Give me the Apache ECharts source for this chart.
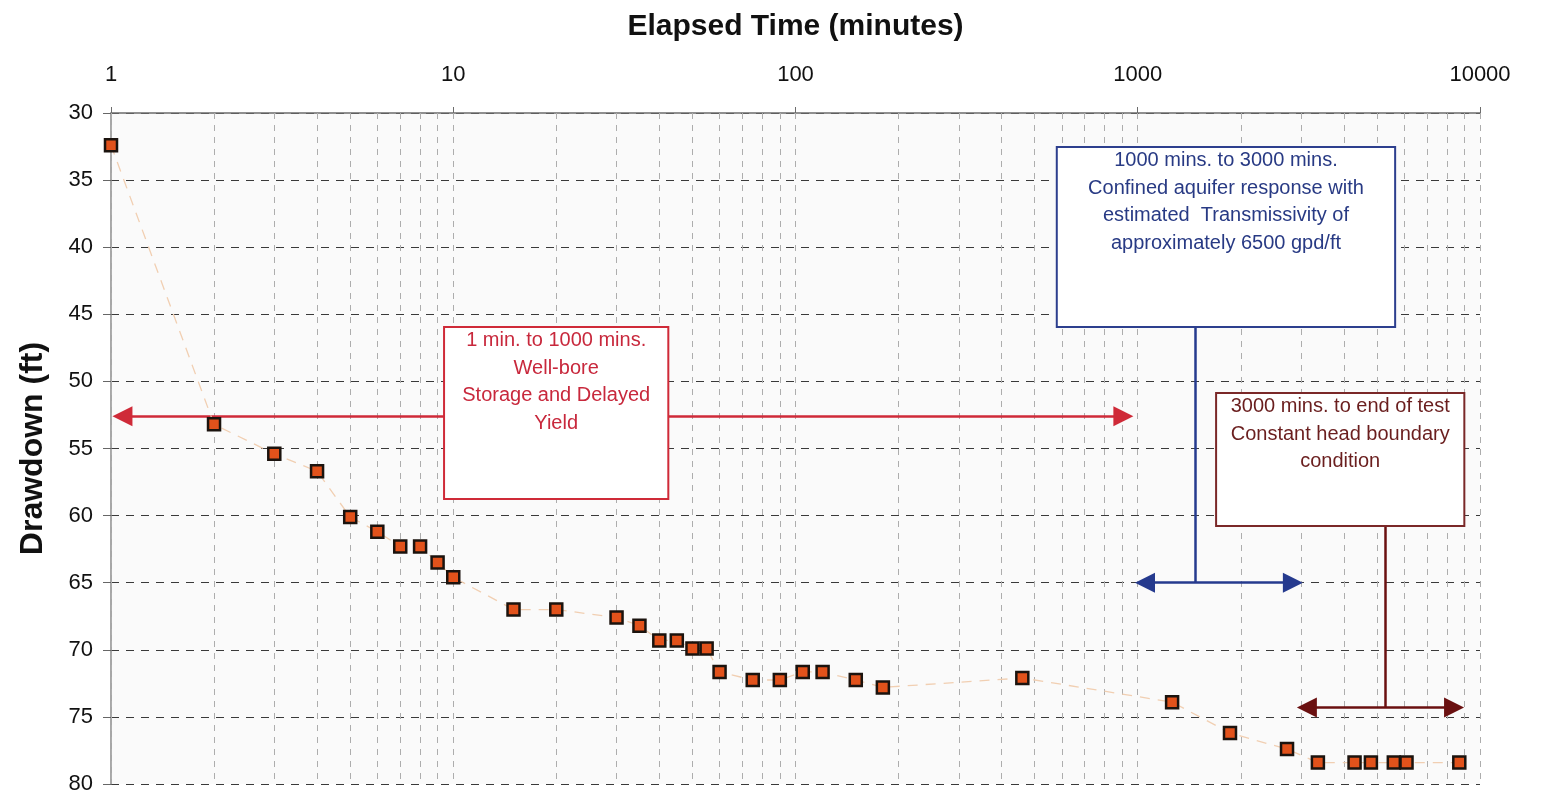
<!DOCTYPE html>
<html>
<head>
<meta charset="utf-8">
<script src="https://cdn.jsdelivr.net/npm/echarts@6/dist/echarts.min.js"></script>
<style>
html,body{margin:0;padding:0;background:#ffffff;}
#chart{width:1543px;height:795px;}
</style>
</head>
<body>
<div id="chart"></div>
<script>
// ---- data ----
const elapsedMinutes = [1, 2, 3, 4, 5, 6, 7, 8, 9, 10, 15, 20, 30, 35, 40, 45, 50, 55, 60, 75, 90, 105, 120, 150, 180, 460, 1260, 1860, 2730, 3360, 4300, 4800, 5600, 6100, 8700];
const drawdownFt     = [32.4, 53.2, 55.4, 56.7, 60.1, 61.2, 62.3, 62.3, 63.5, 64.6, 67.0, 67.0, 67.6, 68.2, 69.3, 69.3, 69.9, 69.9, 71.65, 72.25, 72.25, 71.65, 71.65, 72.25, 72.8, 72.1, 73.9, 76.2, 77.4, 78.4, 78.4, 78.4, 78.4, 78.4, 78.4];
const xTickLabels = ['1', '10', '100', '1000', '10000'];
const yTickLabels = [30, 35, 40, 45, 50, 55, 60, 65, 70, 75, 80];
const xTitle = 'Elapsed Time (minutes)';
const yTitle = 'Drawdown (ft)';
const phaseLabels = [
  ['1 min. to 1000 mins.', 'Well-bore', 'Storage and Delayed', 'Yield'],
  ['1000 mins. to 3000 mins.', 'Confined aquifer response with', 'estimated  Transmissivity of', 'approximately 6500 gpd/ft'],
  ['3000 mins. to end of test', 'Constant head boundary', 'condition']
];

// ---- annotation layout (data coordinates: minutes, ft) ----
const phaseColors = [
  {line: '#cf2a38', text: '#c8283c', arrow: '#cf2a38'},
  {line: '#2d3f8e', text: '#283a84', arrow: '#253a8e'},
  {line: '#7a2828', text: '#6a1e1e', arrow: '#6a1010'}
];
const phaseBoxes = [
  [[9.4, 45.95], [42.5, 58.76]],
  [[580, 32.53], [5650, 45.95]],
  [[1694, 50.86], [9000, 60.77]]
];

const FONT = "'Liberation Sans', Arial, Helvetica, sans-serif";

// vertical log grid positions (2..9 of each decade + decades)
const vGrid = [];
for (let d = 1; d <= 1000; d *= 10) {
  for (let m = 1; m <= 10; m++) { if (!(d > 1 && m === 1)) vGrid.push(d * m); }
}

const points = elapsedMinutes.map((t, i) => [t, drawdownFt[i]]);

const arrowSize = [20, 20];
function seg(a, b, sa, sb, color) {
  return [
    {coord: a, symbol: sa, symbolSize: arrowSize, lineStyle: {color: color, width: 2.5, type: 'solid'}, itemStyle: {color: color}},
    {coord: b, symbol: sb, symbolSize: arrowSize}
  ];
}

const chart = echarts.init(document.getElementById('chart'), null, {renderer: 'canvas'});
const option = {
  backgroundColor: '#ffffff',
  animation: false,
  grid: {left: 111, right: 63, top: 113, bottom: 11, show: true, backgroundColor: '#fafafa', borderWidth: 0,
    containLabel: false, outerBoundsMode: 'none'},
  xAxis: {
    type: 'log', logBase: 10, min: 1, max: 10000, position: 'top',
    name: xTitle, nameLocation: 'middle', nameGap: 71,
    nameTextStyle: {fontFamily: FONT, fontWeight: 'bold', fontSize: 30, color: '#111'},
    axisLine: {show: true, lineStyle: {color: '#6c6c6c', width: 1.5}},
    axisTick: {show: true, length: 6, lineStyle: {color: '#6c6c6c'}},
    axisLabel: {fontFamily: FONT, fontSize: 22, color: '#111', margin: 27,
      formatter: v => { const k = Math.round(Math.log10(v)); return xTickLabels[k] !== undefined ? xTickLabels[k] : ''; }},
    splitLine: {show: false},
    minorTick: {show: false}, minorSplitLine: {show: false}
  },
  yAxis: {
    type: 'value', inverse: true, min: 30, max: 80, interval: 5,
    name: yTitle, nameLocation: 'middle', nameGap: 62, nameRotate: 90,
    nameTextStyle: {fontFamily: FONT, fontWeight: 'bold', fontSize: 32, color: '#111'},
    axisLine: {show: true, lineStyle: {color: '#8a8a8a', width: 1.5}},
    axisTick: {show: true, length: 8, lineStyle: {color: '#666'}},
    axisLabel: {fontFamily: FONT, fontSize: 22, color: '#111', margin: 18,
      formatter: v => yTickLabels.indexOf(v) >= 0 ? String(v) : ''},
    splitLine: {show: true, lineStyle: {color: '#3a3a3a', width: 1, type: [8, 7]}}
  },
  series: [
    {
      // vertical log grid lines
      type: 'line', data: [], z: 1, silent: true, symbol: 'none',
      markLine: {
        z: 1, silent: true, symbol: ['none', 'none'], label: {show: false},
        lineStyle: {color: '#adadad', width: 1, type: [6, 6]},
        emphasis: {disabled: true},
        data: vGrid.map(v => ({xAxis: v}))
      }
    },
    {
      // arrows and connectors
      type: 'line', data: [], z: 3, silent: true, symbol: 'none',
      markLine: {
        z: 3, silent: true, label: {show: false}, emphasis: {disabled: true},
        lineStyle: {width: 2.5, type: 'solid'},
        data: [
          seg([1.08, 52.6], [9.4, 52.6], 'triangle', 'none', phaseColors[0].arrow),
          seg([42.5, 52.6], [908, 52.6], 'none', 'triangle', phaseColors[0].arrow),
          seg([1475, 45.95], [1475, 65.0], 'none', 'none', phaseColors[1].arrow),
          seg([1050, 65.0], [2840, 65.0], 'triangle', 'triangle', phaseColors[1].arrow),
          seg([5300, 60.77], [5300, 74.3], 'none', 'none', phaseColors[2].arrow),
          seg([3120, 74.3], [8400, 74.3], 'triangle', 'triangle', phaseColors[2].arrow)
        ]
      }
    },
    {
      // phase boxes
      type: 'line', data: [], z: 4, silent: true, symbol: 'none',
      markArea: {
        z: 4, silent: true, emphasis: {disabled: true},
        data: phaseBoxes.map((b, i) => [
          {coord: b[0], name: phaseLabels[i].join('\n'),
            itemStyle: {color: '#ffffff', borderColor: phaseColors[i].line, borderWidth: 2, opacity: 1},
            label: {show: true, position: 'insideTop', distance: 1, color: phaseColors[i].text,
              fontFamily: FONT, fontSize: 20, lineHeight: 27.5, align: 'center'}},
          {coord: b[1]}
        ])
      }
    },
    {
      name: 'Drawdown', type: 'line', data: points, z: 5,
      symbol: 'rect', symbolSize: 12,
      itemStyle: {color: '#e2521b', borderColor: '#1b130e', borderWidth: 2.5},
      lineStyle: {color: '#f1cfb2', width: 1.3, type: [10, 8]},
      emphasis: {disabled: true}
    }
  ]
};
chart.setOption(option);
</script>
</body>
</html>
